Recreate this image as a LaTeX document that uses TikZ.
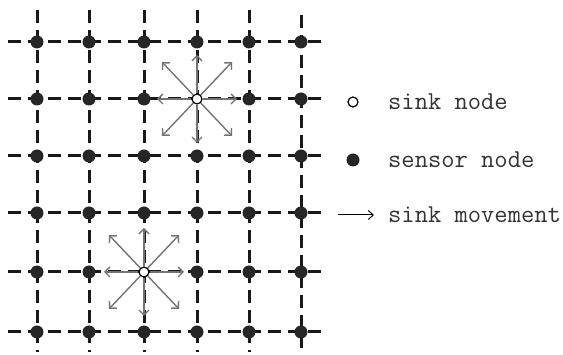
\documentclass[tikz,border=0pt]{standalone}
\usetikzlibrary{arrows.meta}
\begin{document}
\begin{tikzpicture}[x=1pt,y=-1pt,
  gridline/.style={line width=3pt,dash pattern=on 13pt off 7pt,black!90},
  sensor/.style={circle,fill=black!85,inner sep=0pt,minimum size=13pt},
  sink/.style={circle,draw=black,fill=white,line width=1.2pt,inner sep=0pt,minimum size=10pt},
  move/.style={draw=black!55,line width=1.4pt,-{Straight Barb[length=5pt,width=10pt]}},
  legarrow/.style={draw=black,line width=1pt,-{Straight Barb[length=5pt,width=9pt]}},
  legtext/.style={anchor=west,font=\fontsize{25.8}{30}\selectfont\ttfamily,inner sep=0pt,text=black!80}]
\useasboundingbox (0,0) rectangle (563,355);
% grid lines
\foreach \y [count=\r] in {42,99,156,213,272,332}{
  \coordinate (hl\r) at (8,\y);
  \coordinate (hr\r) at (322,\y);
  \draw[gridline] (hl\r) -- (hr\r);
}
\foreach \x [count=\c] in {37,89,144,197,249,301}{
  \coordinate (vt\c) at (\x,{\c==6 ? 15 : 10});
  \coordinate (vb\c) at (\x,352);
  \draw[gridline] (vt\c) -- (vb\c);
}
% sensor nodes (not at sink positions)
\foreach \x [count=\c] in {37,89,144,197,249,301}{
  \foreach \y [count=\r] in {42,99,156,213,272,332}{
    \ifnum\c=4 \ifnum\r=2 \else \node[sensor] (n\c-\r) at (\x,\y) {};\fi
    \else\ifnum\c=3 \ifnum\r=5 \else \node[sensor] (n\c-\r) at (\x,\y) {};\fi
    \else \node[sensor] (n\c-\r) at (\x,\y) {};
    \fi\fi
  }
}
% sinks with movement arrows
\foreach \sx/\sy/\nm in {197/99/A,144/272/B}{
  \coordinate (\nm e) at (\sx+40,\sy);
  \coordinate (\nm w) at (\sx-40,\sy);
  \coordinate (\nm n) at (\sx,\sy-44);
  \coordinate (\nm s) at (\sx,\sy+44);
  \coordinate (\nm ne) at (\sx+35,\sy-37);
  \coordinate (\nm nw) at (\sx-35,\sy-37);
  \coordinate (\nm se) at (\sx+35,\sy+37);
  \coordinate (\nm sw) at (\sx-35,\sy+37);
  \node[sink] (sink\nm) at (\sx,\sy) {};
  \foreach \d in {e,w,n,s,ne,nw,se,sw}{
    \draw[move] (sink\nm) -- (\nm\d);
  }
}
% legend
\node[sink] (legsink) at (353,102) {};
\node[legtext] (tsink) at (388,102) {sink node};
\node[sensor] (legsensor) at (353,160) {};
\node[legtext] (tsensor) at (388,160) {sensor node};
\coordinate (la) at (338,215);
\coordinate (lb) at (374,215);
\draw[legarrow] (la) -- (lb);
\node[legtext] (tmove) at (388,215) {sink movement};
\end{tikzpicture}
\end{document}
